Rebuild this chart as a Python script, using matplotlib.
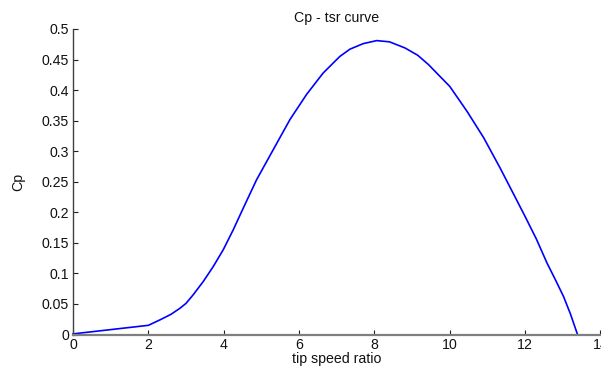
import matplotlib
matplotlib.use("Agg")
import matplotlib.pyplot as plt

plt.rcParams['font.family'] = ['Liberation Sans', 'DejaVu Sans']

tsr = [0.0, 0.5, 1.0, 1.5, 2.0, 2.31, 2.6, 2.84, 3.0, 3.19, 3.46, 3.72, 3.99, 4.25, 4.52,
       4.87, 5.31, 5.76, 6.20, 6.64, 7.08, 7.35, 7.7, 8.06, 8.4, 8.81, 9.15, 9.43, 10.0,
       10.46, 10.9, 11.34, 11.7, 12.0, 12.3, 12.58, 12.8, 13.02, 13.2, 13.39]
cp = [0.001, 0.0045, 0.008, 0.0115, 0.015, 0.024, 0.033, 0.043, 0.051, 0.065, 0.087, 0.111,
      0.139, 0.171, 0.207, 0.253, 0.302, 0.352, 0.393, 0.428, 0.455, 0.467, 0.476, 0.481,
      0.479, 0.469, 0.457, 0.442, 0.406, 0.365, 0.322, 0.272, 0.229, 0.193, 0.156, 0.117,
      0.090, 0.062, 0.034, 0.0]

xticks = [0, 2, 4, 6, 8, 10, 12, 14]
yticks = [0, 0.05, 0.1, 0.15, 0.2, 0.25, 0.3, 0.35, 0.4, 0.45, 0.5]
ytick_labels = ['0', '0.05', '0.1', '0.15', '0.2', '0.25', '0.3', '0.35', '0.4', '0.45', '0.5']

FS = 10.2
fig = plt.figure(figsize=(6.01, 3.67), dpi=100)
ax = fig.add_axes([73/601, (367-334.5)/367, (600.5-73)/601, (334.5-29)/367])
ax.plot(tsr, cp, color='#0000ff', linewidth=1.2, clip_on=False)
ax.set_xlim(0, 14)
ax.set_ylim(0, 0.5)
ax.set_xticks(xticks)
ax.set_xticklabels([str(t) for t in xticks])
ax.set_yticks(yticks)
ax.set_yticklabels(ytick_labels)
ax.spines['top'].set_visible(False)
ax.spines['right'].set_visible(False)
ax.spines['bottom'].set_color('#7f7f7f')
ax.spines['bottom'].set_linewidth(1.6)
ax.spines['left'].set_color('#404040')
ax.spines['left'].set_linewidth(1.0)
ax.tick_params(direction='in', length=3.6, width=0.8, color='#202020', labelsize=FS,
               labelcolor='#111111', pad=3)
ax.tick_params(axis='x', pad=2.5)
ax.set_title('Cp - tsr curve', fontsize=FS, pad=5, color='#111111')
ax.set_xlabel('tip speed ratio', fontsize=FS, labelpad=0, color='#111111')
ax.set_ylabel('Cp', fontsize=FS, color='#111111')
ax.yaxis.set_label_coords((18-73)/527.5, 0.5)
ax.yaxis.label.set_va('center')
fig.savefig('out.png', dpi=100)
